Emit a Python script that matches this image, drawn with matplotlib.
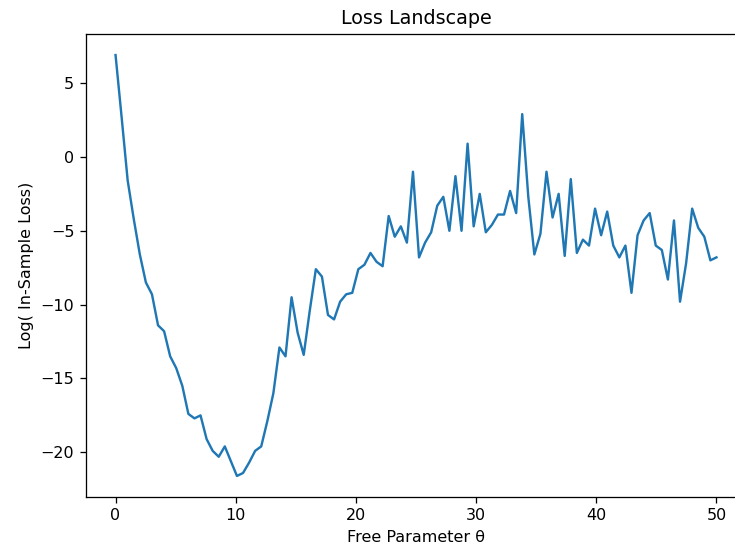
import matplotlib
matplotlib.use("Agg")
import matplotlib.pyplot as plt
import numpy as np

# parametro libre y log de la perdida
theta = np.linspace(0, 50, 100)
log_loss = [
    6.9, 2.7, -1.6, -4.2, -6.6, -8.5, -9.3, -11.4, -11.8, -13.5,
    -14.3, -15.5, -17.4, -17.7, -17.5, -19.1, -19.9, -20.3, -19.6, -20.6,
    -21.6, -21.4, -20.7, -19.9, -19.6, -17.9, -16.0, -12.9, -13.5, -9.5,
    -11.9, -13.4, -10.4, -7.6, -8.1, -10.7, -11.0, -9.8, -9.3, -9.2,
    -7.6, -7.3, -6.5, -7.1, -7.4, -4.0, -5.4, -4.7, -5.8, -1.0,
    -6.8, -5.8, -5.1, -3.3, -2.7, -5.0, -1.3, -5.0, 0.9, -4.7,
    -2.5, -5.1, -4.6, -3.9, -3.9, -2.3, -3.8, 2.9, -2.7, -6.6,
    -5.2, -1.0, -4.1, -2.5, -6.7, -1.5, -6.5, -5.6, -6.0, -3.5,
    -5.3, -3.7, -6.0, -6.8, -6.0, -9.2, -5.3, -4.3, -3.8, -6.0,
    -6.3, -8.3, -4.3, -9.8, -7.2, -3.5, -4.8, -5.4, -7.0, -6.8,
]

fig = plt.figure(figsize=(735 / 115, 550 / 115), dpi=115)
# el eje se sale un poco por la derecha, como en la original
ax = fig.add_axes([85.5 / 735, 53 / 550, 661 / 735, 463 / 550])

ax.plot(theta, log_loss)

plt.title("Loss Landscape")
plt.xlabel("Free Parameter θ")
plt.ylabel("Log( In-Sample Loss)")
plt.savefig("out.png", dpi=115)
